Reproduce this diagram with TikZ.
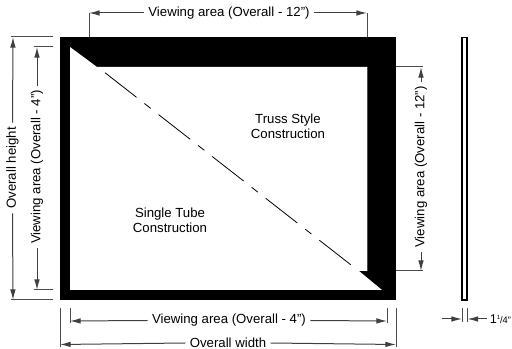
\documentclass[tikz,border=0pt]{standalone}
\usepackage{fontspec}
\setmainfont{Liberation Sans}
\usetikzlibrary{arrows.meta}
\tikzset{
  x=0.75pt,y=-0.75pt,
  dim/.style={draw=black!70,line width=0.75pt},
  arr/.style={draw=black!75,line width=0.75pt,-{Latex[length=8pt,width=4.2pt]}},
  lbl/.style={font=\fontsize{9.9pt}{11pt}\selectfont,inner sep=3.2pt,text=black},
}
\begin{document}
\begin{tikzpicture}
\useasboundingbox (0,0) rectangle (512,349);
% frame
\fill[black] (60,37) rectangle (396,300);
\fill[white] (70,47) -- (97,67) -- (367,67) -- (367,271) -- (359,271) -- (382,290) -- (70,290) -- cycle;
\draw[dim] (367,67) -- (367,271);
\draw[black,line width=0.6pt,dash pattern=on 30pt off 7.5pt on 6pt off 7.5pt] (105,72.7) -- (350.7,264.7);
% side view
\draw[black,line width=0.8pt] (462,37.5) rectangle (467,300);
% coordinates
\coordinate (vtAe) at (89,37); \coordinate (vtAu) at (89,13);
\coordinate (vtBe) at (367,37); \coordinate (vtBu) at (367,13);
\coordinate (ohA) at (11,37); \coordinate (ohAe) at (53,37);
\coordinate (ohB) at (11,300); \coordinate (ohBe) at (53,300);
\coordinate (vlA) at (34,47); \coordinate (vlAe) at (53,47);
\coordinate (vlB) at (34,290); \coordinate (vlBe) at (53,290);
\coordinate (vrA) at (423,67); \coordinate (vrAe) at (396,67);
\coordinate (vrB) at (423,271); \coordinate (vrBe) at (396,271);
\coordinate (vbAu) at (70,308); \coordinate (vbAd) at (70,323);
\coordinate (vbBu) at (387,308); \coordinate (vbBd) at (387,323);
\coordinate (owAu) at (60,308); \coordinate (owAd) at (60,347);
\coordinate (owBu) at (396,308); \coordinate (owBd) at (396,347);
\coordinate (tAu) at (462,308); \coordinate (tAd) at (462,322);
\coordinate (tBu) at (467.5,308); \coordinate (tBd) at (467.5,322);
\coordinate (tAo) at (442,319); \coordinate (tBo) at (487,319);
\coordinate (tAi) at (462,319); \coordinate (tBi) at (467.5,319);
% labels
\node[lbl] (l1) at (229,13) {Viewing area (Overall - 12")};
\node[lbl,rotate=90] (l2) at (12.5,168) {Overall height};
\node[lbl,rotate=90] (l3) at (37,167) {Viewing area (Overall - 4")};
\node[lbl,rotate=90] (l4) at (421,167) {Viewing area (Overall - 12")};
\node[lbl] (l5) at (229,320.5) {Viewing area (Overall - 4")};
\node[lbl] (l6) at (228,343) {Overall width};
\node[lbl,align=center] (l7) at (288,126.5) {Truss Style\\Construction};
\node[lbl,align=center] (l8) at (170,220.5) {Single Tube\\Construction};
\node[anchor=west,inner sep=0pt,font=\fontsize{9.5pt}{10pt}\selectfont] (l9) at (489.5,319) {1\raisebox{3pt}{\fontsize{4.5pt}{5pt}\selectfont 1}{\fontsize{7pt}{8pt}\selectfont /4"}};
% dimension lines
\draw[dim] (vtAe)--(vtAu); \draw[dim] (vtBe)--(vtBu);
\draw[arr] (l1.west)--(vtAu); \draw[arr] (l1.east)--(vtBu);
\draw[dim] (ohAe)--(ohA); \draw[dim] (ohBe)--(ohB);
\draw[arr] (l2.east)--(13,37); \draw[arr] (l2.west)--(13,300);
\draw[dim] (vlAe)--(vlA); \draw[dim] (vlBe)--(vlB);
\draw[arr] (l3.east)--(37,47); \draw[arr] (l3.west)--(37,290);
\draw[dim] (vrAe)--(vrA); \draw[dim] (vrBe)--(vrB);
\draw[arr] (l4.east)--(421,67); \draw[arr] (l4.west)--(421,271);
\draw[dim] (vbAu)--(vbAd); \draw[dim] (vbBu)--(vbBd);
\draw[arr] (l5.west)--(70,321); \draw[arr] (l5.east)--(387,321);
\draw[dim] (owAu)--(owAd); \draw[dim] (owBu)--(owBd);
\draw[arr] (l6.west)--(60,344.5); \draw[arr] (l6.east)--(396,344.5);
\draw[dim] (tAu)--(tAd); \draw[dim] (tBu)--(tBd);
\draw[arr] (tAo)--(tAi); \draw[arr] (tBo)--(tBi);
\end{tikzpicture}
\end{document}
